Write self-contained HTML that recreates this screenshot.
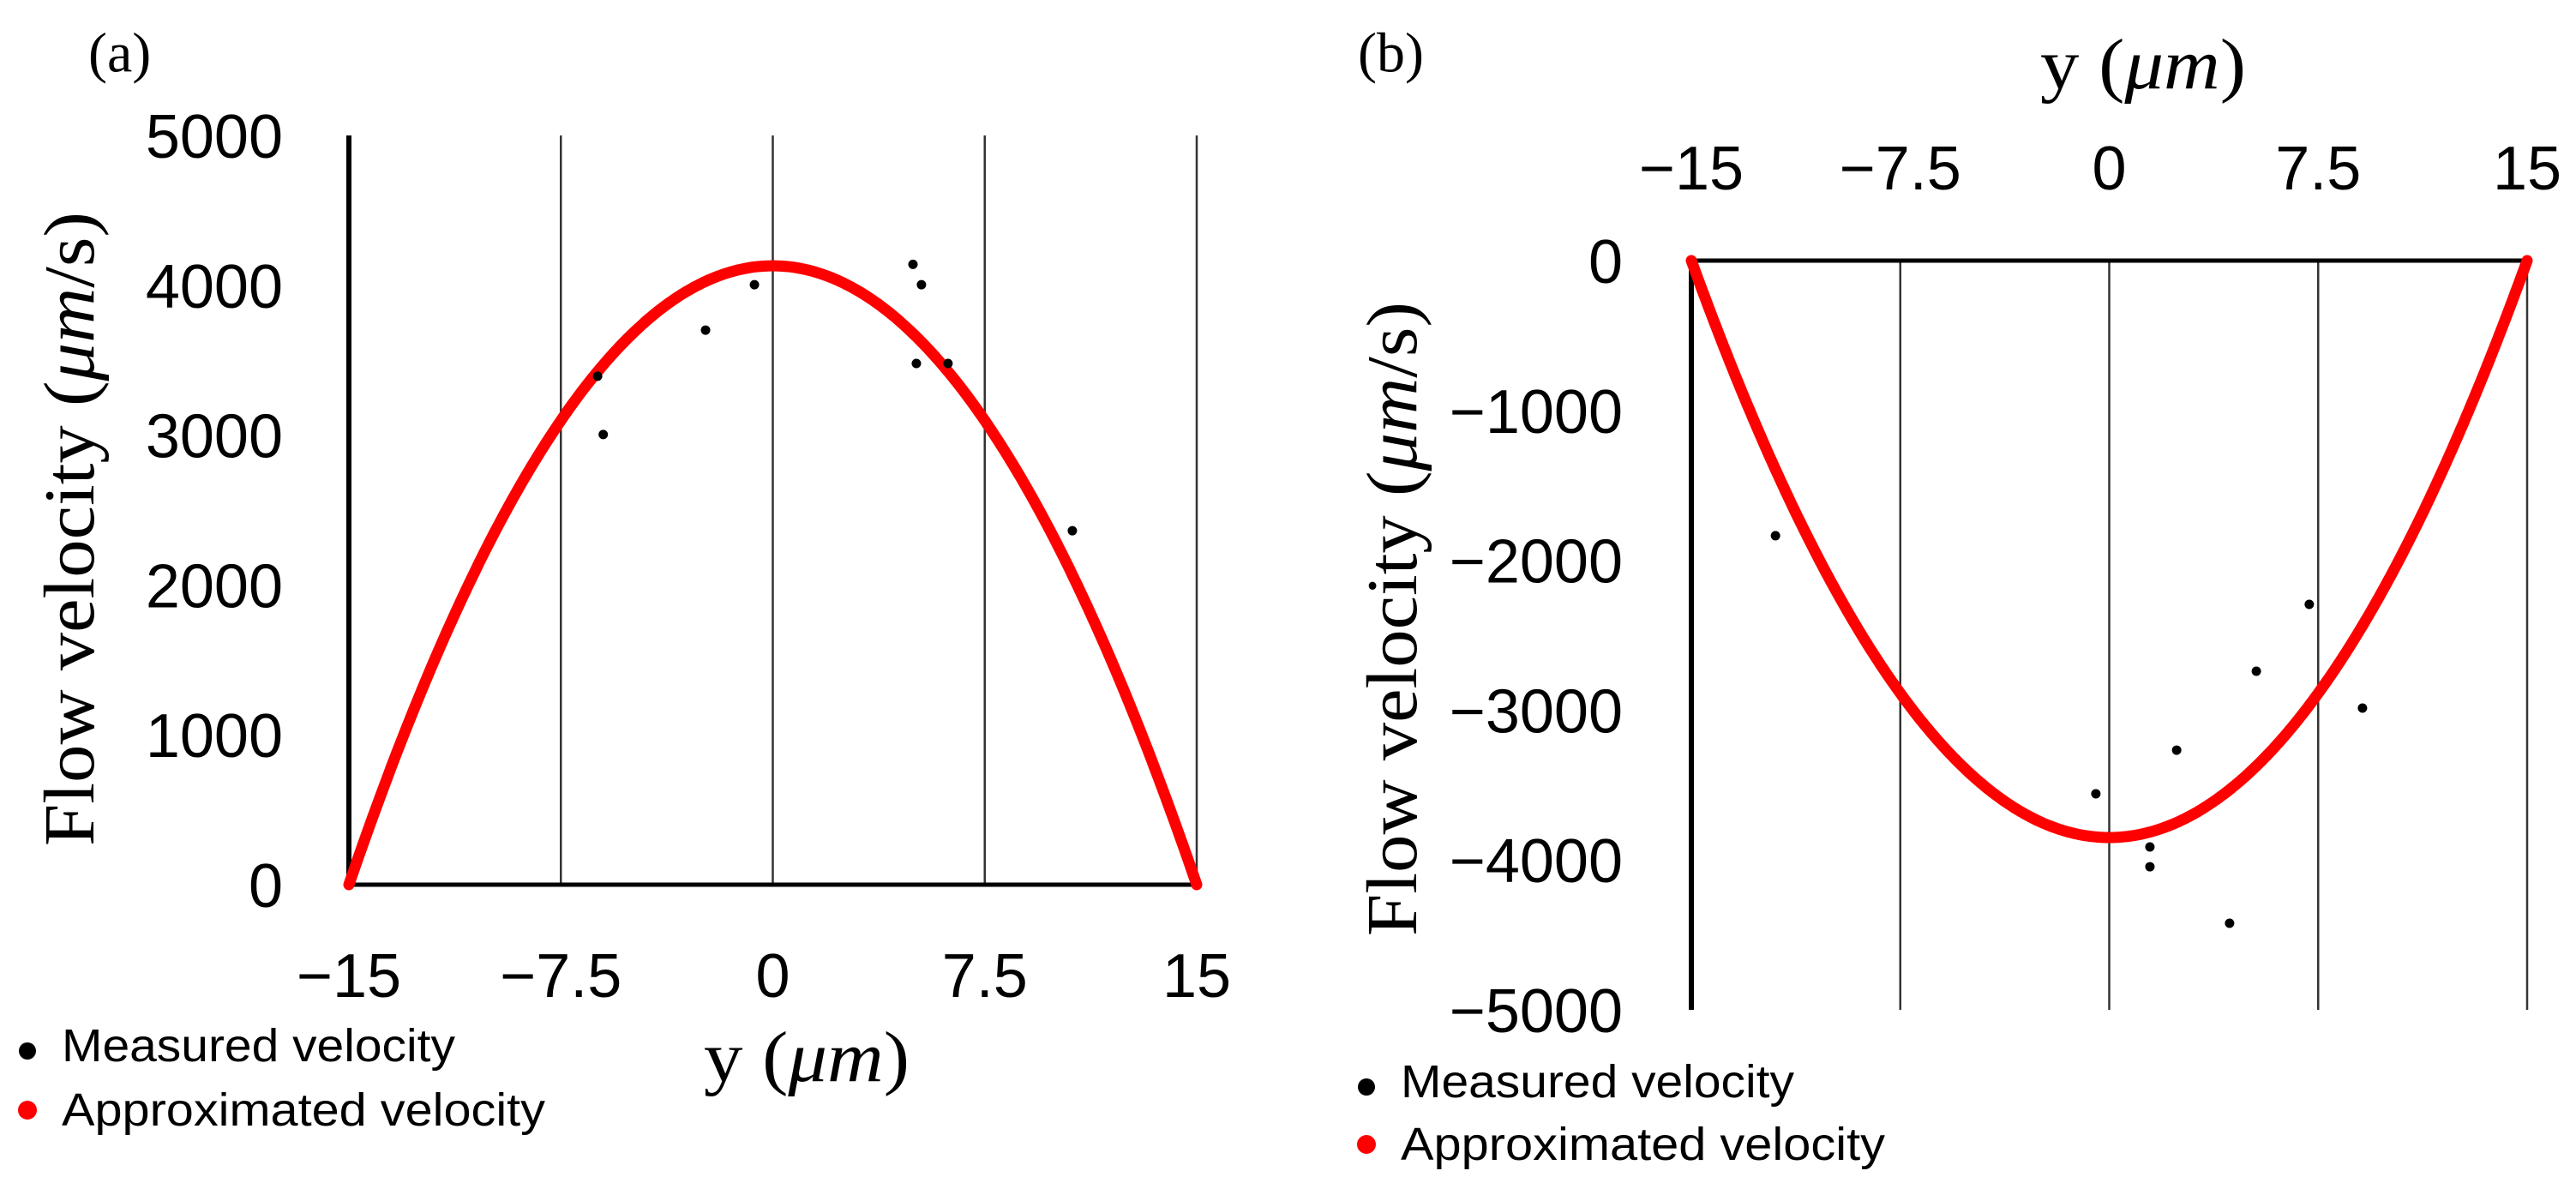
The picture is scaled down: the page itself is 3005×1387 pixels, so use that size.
<!DOCTYPE html>
<html><head><meta charset="utf-8"><style>
html,body{margin:0;padding:0;background:#fff;}
svg{display:block;}
</style></head>
<body>
<svg id="chart" width="3005" height="1387" viewBox="0 0 3005 1387" xmlns="http://www.w3.org/2000/svg">
<g id="pa"></g>
<g id="pb"></g>
</svg>
<script>
// Panel (a) data
const aXTicks = [-15, -7.5, 0, 7.5, 15];
const aXTickLabels = ["\u221215", "\u22127.5", "0", "7.5", "15"];
const aYTicks = [0, 1000, 2000, 3000, 4000, 5000];
const aYTickLabels = ["0", "1000", "2000", "3000", "4000", "5000"];
const aMeasX = [-6.2, -6.0, -2.38, -0.65, 4.96, 5.26, 5.08, 6.2, 10.6];
const aMeasV = [3393, 3004, 3701, 4004, 4140, 4004, 3478, 3478, 2362];
const aFitPeak = [4130];
// Panel (b) data
const bXTicks = [-15, -7.5, 0, 7.5, 15];
const bXTickLabels = ["\u221215", "\u22127.5", "0", "7.5", "15"];
const bYTicks = [0, -1000, -2000, -3000, -4000, -5000];
const bYTickLabels = ["0", "\u22121000", "\u22122000", "\u22123000", "\u22124000", "\u22125000"];
const bMeasX = [-11.98, 7.18, 5.28, 9.09, 2.42, -0.48, 1.46, 1.46, 4.32];
const bMeasV = [-1836, -2294, -2740, -2986, -3267, -3558, -3913, -4045, -4422];
const bFitPeak = [-3850];

const NS = "http://www.w3.org/2000/svg";
function mk(parent, tag, attrs, text){
  const e = document.createElementNS(NS, tag);
  for (const k in attrs) e.setAttribute(k, attrs[k]);
  if (text !== undefined) e.textContent = text;
  parent.appendChild(e);
  return e;
}
const SANS = '"Liberation Sans", sans-serif';
const SERIF = '"Liberation Serif", serif';

function panel(g, o){
  const sx = v => o.x0 + (v - o.xmin) / (o.xmax - o.xmin) * (o.x1 - o.x0);
  const sy = v => o.yA + (v - o.vA) / (o.vB - o.vA) * (o.yB - o.yA);
  // gridlines
  o.xTicks.forEach((t) => {
    if (t === o.xmin) return;
    const l = mk(g, 'line', {x1: sx(t), x2: sx(t), y1: o.gTop, y2: o.gBot, stroke: '#333', 'stroke-width': 2.5});
    
    
  });
  // axes
  const ya = mk(g, 'line', {x1: sx(o.xmin), x2: sx(o.xmin), y1: o.gTop, y2: o.gBot, stroke: '#000', 'stroke-width': 6});
  
  
  const xa = mk(g, 'line', {x1: sx(o.xmin), x2: sx(o.xmax), y1: sy(0), y2: sy(0), stroke: '#000', 'stroke-width': 5});
  
  
  // y tick labels
  o.yTicks.forEach((t, i) => {
    const tx = mk(g, 'text', {x: o.yLabRight, y: sy(t) + 26, 'text-anchor': 'end', 'font-family': SANS, 'font-size': 72, fill: '#000'}, o.yLabels[i]);
    
    
  });
  // x tick labels
  o.xTicks.forEach((t, i) => {
    const tx = mk(g, 'text', {x: sx(t), y: o.xLabBase, 'text-anchor': 'middle', 'font-family': SANS, 'font-size': 72, fill: '#000'}, o.xLabels[i]);
    
    
  });
  // fitted curve (parabola from fitted peak)
  const pk = o.peak[0];
  let pts = [];
  for (let k = 0; k <= 300; k++){
    const xv = o.xmin + (o.xmax - o.xmin) * k / 300;
    const r = xv / o.xmax;
    pts.push(sx(xv).toFixed(1) + ',' + sy(pk * (1 - r * r)).toFixed(1));
  }
  const c = mk(g, 'polyline', {points: pts.join(' '), fill: 'none', stroke: '#ff0000', 'stroke-width': 13, 'stroke-linecap': 'round', 'stroke-linejoin': 'round'});
  
  
  // measured points
  o.mx.forEach((xv, i) => {
    const d = mk(g, 'circle', {cx: sx(xv), cy: sy(o.mv[i]), r: 5.5, fill: '#000'});
    
    
  });
}

const pa = document.getElementById('pa');
const pb = document.getElementById('pb');
panel(pa, {x0: 407, x1: 1396, xmin: -15, xmax: 15, yA: 1032, vA: 0, yB: 158, vB: 5000,
  gTop: 158, gBot: 1032, xTicks: aXTicks, xLabels: aXTickLabels, yTicks: aYTicks, yLabels: aYTickLabels,
  yLabRight: 330, xLabBase: 1163, mx: aMeasX, mv: aMeasV, peak: aFitPeak});
panel(pb, {x0: 1973, x1: 2948, xmin: -15, xmax: 15, yA: 304, vA: 0, yB: 1178, vB: -5000,
  gTop: 304, gBot: 1178, xTicks: bXTicks, xLabels: bXTickLabels, yTicks: bYTicks, yLabels: bYTickLabels,
  yLabRight: 1893, xLabBase: 221, mx: bMeasX, mv: bMeasV, peak: bFitPeak});

// titles & labels
function yTitle(g, cx, cy){
  const t = mk(g, 'text', {x: 0, y: 0, transform: `translate(${cx},${cy}) rotate(-90)`, 'text-anchor': 'middle', 'dominant-baseline': 'central', 'font-family': SERIF, 'font-size': 84, fill: '#000', textLength: 740, lengthAdjust: 'spacingAndGlyphs'});
  
  
  mk(t, 'tspan', {}, 'Flow velocity (');
  mk(t, 'tspan', {'font-style': 'italic'}, 'μm');
  mk(t, 'tspan', {}, '/s)');
}
function xTitle(g, cx, cy){
  const t = mk(g, 'text', {x: cx, y: cy, 'text-anchor': 'middle', 'dominant-baseline': 'central', 'font-family': SERIF, 'font-size': 84, fill: '#000', textLength: 240, lengthAdjust: 'spacingAndGlyphs'});
  
  
  mk(t, 'tspan', {}, 'y (');
  mk(t, 'tspan', {'font-style': 'italic'}, 'μm');
  mk(t, 'tspan', {}, ')');
}
function panelLabel(g, x, cy, s){
  const t = mk(g, 'text', {x: x, y: cy, 'dominant-baseline': 'central', 'font-family': SERIF, 'font-size': 66, fill: '#000'}, s);
  
  
}
function legend(g, dx, y1, y2, tx, w1, w2){
  const e1 = mk(g, 'g', {});
  
  
  mk(e1, 'circle', {cx: dx, cy: y1 + 6, r: 10, fill: '#000'});
  mk(e1, 'text', {x: tx, y: y1, 'dominant-baseline': 'central', 'font-family': SANS, 'font-size': 54, fill: '#000', textLength: w1, lengthAdjust: 'spacingAndGlyphs'}, 'Measured velocity');
  const e2 = mk(g, 'g', {});
  
  
  mk(e2, 'circle', {cx: dx, cy: y2, r: 11, fill: '#ff0000'});
  mk(e2, 'text', {x: tx, y: y2, 'dominant-baseline': 'central', 'font-family': SANS, 'font-size': 54, fill: '#000', textLength: w2, lengthAdjust: 'spacingAndGlyphs'}, 'Approximated velocity');
}
yTitle(pa, 81, 617);
xTitle(pa, 941, 1233);
panelLabel(pa, 103, 62, '(a)');
legend(pa, 32, 1220, 1295, 72, 459, 564);
yTitle(pb, 1624, 722);
xTitle(pb, 2500, 75);
panelLabel(pb, 1584, 62, '(b)');
legend(pb, 1594, 1262, 1335, 1634, 459, 565);
</script>
</body></html>
